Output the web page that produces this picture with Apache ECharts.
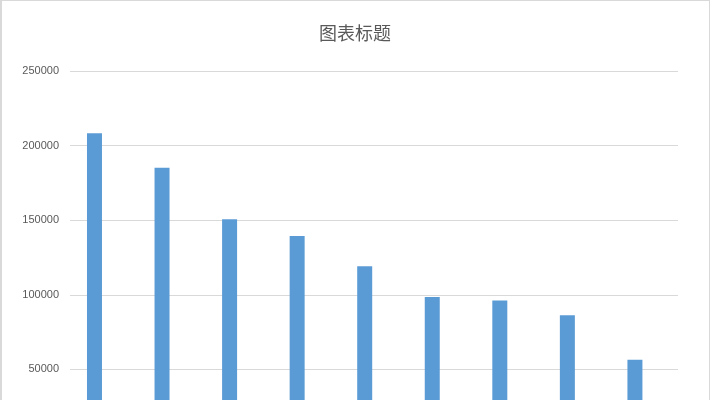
<!DOCTYPE html>
<html>
<head>
<meta charset="utf-8">
<script src="https://cdn.jsdelivr.net/npm/echarts@6/dist/echarts.min.js"></script>
<style>
html,body{margin:0;padding:0;overflow:hidden;background:#fff;}
#frame{position:absolute;left:0;top:0;width:710px;height:480px;box-sizing:border-box;border:1px solid #d9d9d9;border-left-width:2px;}
#chart{position:absolute;left:0;top:0;width:710px;height:480px;}
</style>
</head>
<body>
<div id="chart"></div>
<div id="frame"></div>
<script>
const titleText = "图表标题";
const categories = ["1", "2", "3", "4", "5", "6", "7", "8", "9"];
const series1Values = [208200, 185200, 150600, 139400, 119100, 98500, 96100, 86300, 56500];
const series2Values = [null, null, null, null, null, null, null, null, null];
const yTicks = { min: 0, max: 250000, interval: 50000 };

const chart = echarts.init(document.getElementById('chart'), null, { renderer: 'canvas' });
chart.setOption({
  animation: false,
  backgroundColor: '#ffffff',
  title: {
    text: titleText,
    left: 'center',
    top: 19,
    textStyle: { fontFamily: 'Noto Sans CJK SC', fontSize: 18, fontWeight: 'normal', color: '#595959' }
  },
  grid: { left: 70, right: 32, top: 71, bottom: 36, containLabel: false },
  xAxis: {
    type: 'category',
    data: categories,
    axisTick: { show: false },
    axisLine: { lineStyle: { color: '#d9d9d9' } },
    axisLabel: { color: '#595959', fontFamily: 'Liberation Sans', fontSize: 11 }
  },
  yAxis: {
    type: 'value',
    min: yTicks.min,
    max: yTicks.max,
    interval: yTicks.interval,
    axisLine: { show: false },
    axisTick: { show: false },
    splitLine: { lineStyle: { color: '#d9d9d9', width: 1 } },
    axisLabel: { color: '#595959', fontFamily: 'Liberation Sans', fontSize: 11, margin: 11, formatter: function (v) { return String(v); } }
  },
  series: [
    { name: '系列1', type: 'bar', data: series1Values, barWidth: 15, barGap: '24%', itemStyle: { color: '#5b9bd5' } },
    { name: '系列2', type: 'bar', data: series2Values, barWidth: 15, itemStyle: { color: '#ed7d31' } }
  ]
});
</script>
</body>
</html>
